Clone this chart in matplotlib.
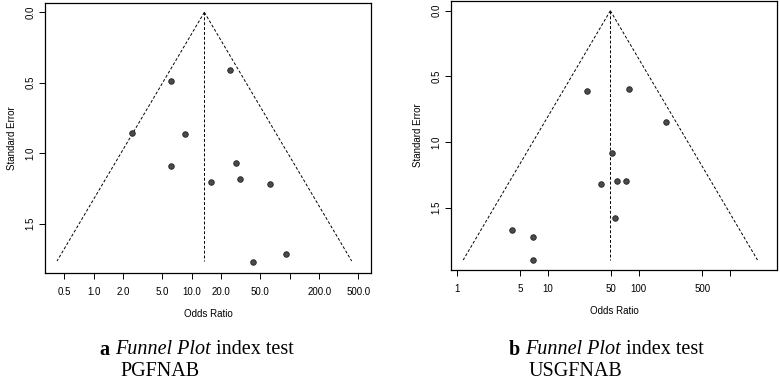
import numpy as np
import matplotlib
matplotlib.use("Agg")
import matplotlib.pyplot as plt

# panel a: PGFNAB
or_a = [24.9, 6.1, 2.47, 8.65, 6.1, 28.2, 15.6, 31.0, 63.6, 42.1, 91.9]
se_a = [0.407, 0.485, 0.856, 0.861, 1.092, 1.069, 1.201, 1.180, 1.220, 1.773, 1.712]
center_a = 13.5
semax_a = 1.765
ticks_a = [0.5, 1, 2, 5, 10, 20, 50, 100, 200, 500]
labels_a = ["0.5", "1.0", "2.0", "5.0", "10.0", "20.0", "50.0", "", "200.0", "500.0"]

# panel b: USGFNAB
or_b = [27.3, 78.6, 200.8, 50.7, 38.4, 57.6, 71.6, 55.2, 4.09, 6.96, 6.96]
se_b = [0.610, 0.594, 0.848, 1.085, 1.321, 1.300, 1.296, 1.578, 1.672, 1.725, 1.900]
center_b = 48.8
semax_b = 1.90
ticks_b = [1, 5, 10, 50, 100, 500, 1000]
labels_b = ["1", "5", "10", "50", "100", "500", ""]

sans = ["Liberation Sans", "DejaVu Sans"]
serif = ["Liberation Serif", "DejaVu Serif"]

fig = plt.figure(figsize=(7.8, 3.82), dpi=100)


def funnel(rect, ors, ses, center, semax, ticks, labels, xlim, ylim):
    ax = fig.add_axes(rect)
    se = np.array([0, semax])
    lc = np.log(center)
    ax.plot(np.exp(lc - 1.96 * se), se, ls=(0, (3, 2)), color="k", lw=0.7)
    ax.plot(np.exp(lc + 1.96 * se), se, ls=(0, (3, 2)), color="k", lw=0.7)
    ax.plot([center, center], se, ls=(0, (3, 2)), color="k", lw=0.7)
    ax.plot(ors, ses, "o", ms=4, mfc="#4a4a4a", mec="#222222", mew=0.6)
    ax.set_xscale("log")
    ax.set_xlim(*xlim)
    ax.set_ylim(*ylim)
    ax.set_xticks(ticks)
    ax.set_xticklabels(labels, family=sans, fontsize=7)
    ax.xaxis.set_minor_locator(matplotlib.ticker.NullLocator())
    ax.set_yticks([0, 0.5, 1.0, 1.5])
    ax.set_yticklabels(["0.0", "0.5", "1.0", "1.5"], family=sans, fontsize=7,
                       rotation=90, va="center")
    ax.tick_params(direction="out", length=4, width=0.7, pad=3)
    ax.tick_params(axis="x", pad=6)
    ax.set_xlabel("Odds Ratio", family=sans, fontsize=7, labelpad=9)
    ax.set_ylabel("Standard Error", family=sans, fontsize=7, labelpad=6)
    for s in ax.spines.values():
        s.set_linewidth(0.9)
    return ax


funnel([45 / 780, 109 / 382, 326 / 780, 270 / 382], or_a, se_a, center_a, semax_a,
       ticks_a, labels_a, (0.32, 676), (1.85, -0.066))
funnel([451 / 780, 112 / 382, 326 / 780, 269 / 382], or_b, se_b, center_b, semax_b,
       ticks_b, labels_b, (0.865, 3311), (1.976, -0.074))

# captions: pieces placed one after another
renderer = fig.canvas.get_renderer()


def caption(x0, letter, name):
    y1 = 1 - 350 / 382
    x = x0 / 780
    parts = [(letter + " ", dict(weight="bold")),
             ("Funnel Plot ", dict(style="italic")),
             ("index test", dict())]
    for s, kw in parts:
        t = fig.text(x, y1, s, family=serif, fontsize=14.5, va="center", **kw)
        bb = t.get_window_extent(renderer)
        x = bb.x1 / fig.bbox.width
    fig.text((x0 + 20) / 780, 1 - 372 / 382, name, family=serif, fontsize=14.5, va="center")


caption(100, "a", "PGFNAB")
caption(509, "b", "USGFNAB")

fig.savefig("out.png", dpi=100)
